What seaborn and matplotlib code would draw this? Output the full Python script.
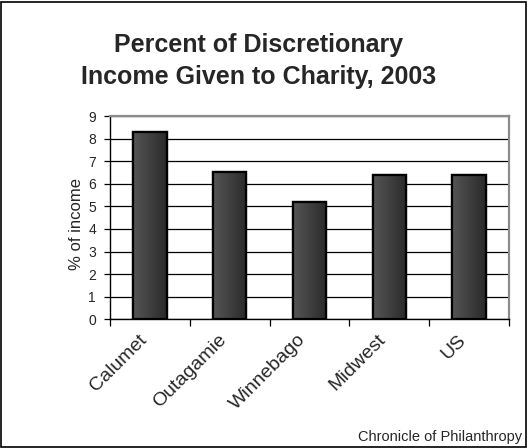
import numpy as np
import pandas as pd
import matplotlib
matplotlib.use('Agg')
import matplotlib.pyplot as plt
from matplotlib.patches import Rectangle
from matplotlib.colors import LinearSegmentedColormap
from matplotlib.transforms import ScaledTranslation
import seaborn as sns

# Chart data
regions = ['Calumet', 'Outagamie', 'Winnebago', 'Midwest', 'US']
pct_income = [8.3, 6.5, 5.2, 6.4, 6.4]
y_ticks = list(range(0, 10))

df = pd.DataFrame({'region': regions, 'pct': pct_income})

sns.set_style('white')
plt.rcParams['font.family'] = ['Liberation Sans', 'DejaVu Sans']

fig = plt.figure(figsize=(5.28, 4.48), dpi=100)
ax = fig.add_axes([0.2083, 0.2873, 0.7557, 0.4537])

sns.barplot(data=df, x='region', y='pct', color='#333333', width=0.42,
            edgecolor='black', linewidth=1.6, ax=ax, zorder=3)

# horizontal gradient on each bar
cmap = LinearSegmentedColormap.from_list('bar', ['#555555', '#2a2a2a'])
grad = np.linspace(0, 1, 64).reshape(1, -1)
for p in list(ax.patches):
    x0, w, h = p.get_x(), p.get_width(), p.get_height()
    im = ax.imshow(grad, cmap=cmap, aspect='auto', extent=(x0, x0 + w, 0, h),
                   zorder=3.5)
    im.set_clip_path(p)
    ax.add_patch(Rectangle((x0, 0), w, h, fill=False, edgecolor='black',
                           linewidth=1.6, zorder=4))

ax.set_xlim(-0.5, len(regions) - 0.5)
ax.set_ylim(0, 9)
ax.set_yticks(y_ticks)
ax.yaxis.grid(True, color='black', linewidth=0.9, zorder=0)
ax.set_axisbelow(True)

ax.set_xlabel('')
ax.set_ylabel('% of income', fontsize=12)
ax.yaxis.set_label_coords(-0.065, 0.47)
ax.tick_params(axis='y', labelsize=10, length=4, width=0.9, direction='out',
               left=True, color='black', pad=6)
ax.set_xticks(range(len(regions)))
ax.set_xticklabels(regions, rotation=45, ha='right', va='center',
                   rotation_mode='anchor', fontsize=14)
ax.tick_params(axis='x', which='major', length=0, pad=13)
shift = ScaledTranslation(-0.06, 0, fig.dpi_scale_trans)
for lbl in ax.get_xticklabels():
    lbl.set_transform(lbl.get_transform() + shift)
ax.set_xticks(np.arange(-0.5, len(regions), 1.0), minor=True)
ax.tick_params(axis='x', which='minor', length=5, width=0.9, direction='out',
               bottom=True, color='black')

for side in ['left', 'bottom']:
    ax.spines[side].set_color('black')
    ax.spines[side].set_linewidth(1.0)
for side in ['top', 'right']:
    ax.spines[side].set_visible(True)
    ax.spines[side].set_color('#8c8c8c')
    ax.spines[side].set_linewidth(1.6)

fig.text(0.489, 0.8996, 'Percent of Discretionary', ha='center', va='center',
         fontsize=18, fontweight='bold')
fig.text(0.489, 0.828, 'Income Given to Charity, 2003', ha='center', va='center',
         fontsize=18, fontweight='bold')
fig.text(0.989, 0.0246, 'Chronicle of Philanthropy', ha='right', va='center',
         fontsize=10.5)

# outer frame
fig.patches.append(Rectangle((0.002, 0.002), 0.994, 0.994, transform=fig.transFigure,
                             fill=False, edgecolor='black', linewidth=1.2))

fig.savefig('out.png', dpi=100)
